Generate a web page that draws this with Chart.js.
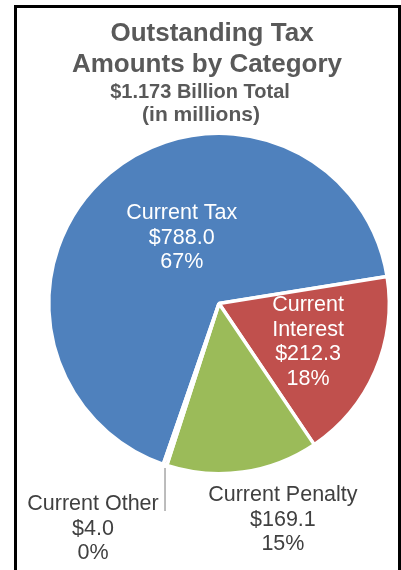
<!DOCTYPE html>
<html>
<head>
<meta charset="utf-8">
<script src="https://cdn.jsdelivr.net/npm/chart.js@4/dist/chart.umd.min.js"></script>
<style>
  html, body { margin: 0; padding: 0; background: #fff; overflow: hidden; }
  #wrap { position: relative; width: 401px; height: 570px; }
  #frame { position: absolute; left: 14px; top: 5px; width: 387px; height: 620px;
           border: 3px solid #000; box-sizing: border-box; pointer-events: none; }
  canvas { position: absolute; left: 0; top: 0; }
</style>
</head>
<body>
<div id="wrap">
  <canvas id="chart" width="401" height="570"></canvas>
  <div id="frame"></div>
</div>
<script>
// Outstanding amounts, $ millions
const categories = ['Current Tax', 'Current Interest', 'Current Penalty', 'Current Other'];
const amounts = [788.0, 212.3, 169.1, 4.0];
const percentLabels = ['67%', '18%', '15%', '0%'];
const titleLines = ['Outstanding Tax', 'Amounts by Category'];
const subtitleLines = ['$1.173 Billion Total', '(in millions)'];

const sliceColors = ['#4F81BD', '#C0504D', '#9BBB59', '#8064A2'];
const FONT = "'Liberation Sans', Arial, sans-serif";

// Heading block above the pie
const headingPlugin = {
  id: 'heading',
  afterDraw(chart) {
    const ctx = chart.ctx;
    ctx.save();
    ctx.fillStyle = '#595959';
    ctx.textAlign = 'center';
    ctx.textBaseline = 'middle';
    ctx.font = 'bold 26px ' + FONT;
    ctx.fillText(titleLines[0], 212, 34);
    ctx.fillText(titleLines[1], 207, 65);
    ctx.font = 'bold 20px ' + FONT;
    ctx.fillText(subtitleLines[0], 200, 92);
    ctx.font = 'bold 21px ' + FONT;
    ctx.fillText(subtitleLines[1], 201, 115);
    ctx.restore();
  }
};

// Per-slice label placement: radial factor plus a nudge, inside or outside
const labelLayout = [
  { f: 0.45, dx: 12, dy: -7, color: '#FFFFFF', split: false },
  { f: 0.57, dx: 0, dy: 0, color: '#FFFFFF', split: true },
  { f: 1.0, dx: 40, dy: 48, color: '#404040', split: false },
  { f: 1.0, dx: -72, dy: 64, color: '#404040', split: false, leader: true }
];

const sliceLabelPlugin = {
  id: 'sliceLabels',
  afterDatasetsDraw(chart) {
    const ctx = chart.ctx;
    const meta = chart.getDatasetMeta(0);
    const lineH = 24.5;
    ctx.save();
    ctx.font = '21.5px ' + FONT;
    ctx.textAlign = 'center';
    ctx.textBaseline = 'middle';
    meta.data.forEach((arc, i) => {
      const p = arc.getProps(['x', 'y', 'startAngle', 'endAngle', 'outerRadius'], true);
      const mid = (p.startAngle + p.endAngle) / 2;
      const lay = labelLayout[i];
      const rimX = p.x + Math.cos(mid) * p.outerRadius;
      const rimY = p.y + Math.sin(mid) * p.outerRadius;
      const ax = p.x + Math.cos(mid) * p.outerRadius * lay.f + lay.dx;
      const ay = p.y + Math.sin(mid) * p.outerRadius * lay.f + lay.dy;
      const name = categories[i];
      const lines = (lay.split ? name.split(' ') : [name])
        .concat(['$' + amounts[i].toFixed(1), percentLabels[i]]);
      if (lay.leader) {
        ctx.strokeStyle = '#A6A6A6';
        ctx.lineWidth = 1.5;
        ctx.beginPath();
        ctx.moveTo(rimX, rimY + 3);
        ctx.lineTo(rimX, rimY + 46);
        ctx.stroke();
      }
      ctx.fillStyle = lay.color;
      const top = ay - (lines.length - 1) * lineH / 2;
      lines.forEach((t, k) => ctx.fillText(t, ax, top + k * lineH));
    });
    ctx.restore();
  }
};

new Chart(document.getElementById('chart'), {
  type: 'pie',
  data: {
    labels: categories,
    datasets: [{
      data: amounts,
      backgroundColor: sliceColors,
      borderColor: '#FFFFFF',
      borderWidth: 3.5,
      hoverOffset: 0
    }]
  },
  options: {
    responsive: false,
    animation: false,
    rotation: 199.1,
    layout: { padding: { left: 47, right: 10, top: 131, bottom: 94 } },
    plugins: {
      legend: { display: false },
      title: { display: false },
      tooltip: { enabled: false }
    },
    events: []
  },
  plugins: [headingPlugin, sliceLabelPlugin]
});
</script>
</body>
</html>
